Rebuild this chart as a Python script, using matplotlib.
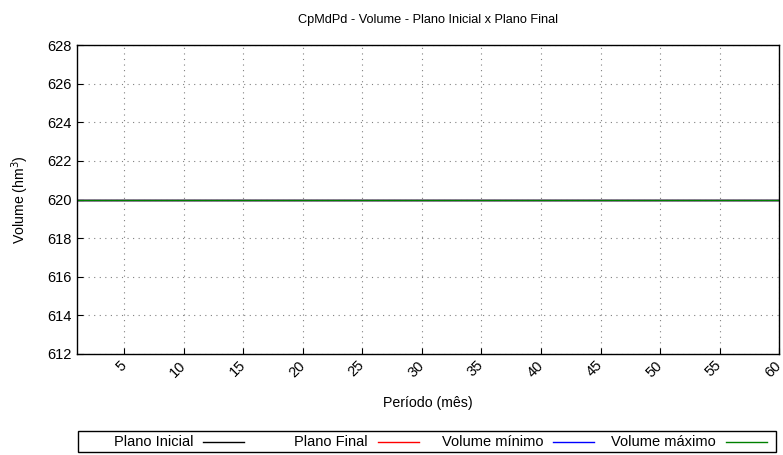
import matplotlib
matplotlib.use("Agg")
import matplotlib.pyplot as plt
import matplotlib.transforms as mtransforms
from matplotlib.lines import Line2D
from matplotlib.patches import Rectangle

plt.rcParams["font.family"] = ["Liberation Sans", "DejaVu Sans"]

# Dados
periodos = list(range(1, 61))
plano_inicial = [620.0] * 60
plano_final = [620.0] * 60
volume_minimo = [620.0] * 60
volume_maximo = [620.0] * 60

series = [
    ("Plano Inicial", plano_inicial, "black"),
    ("Plano Final", plano_final, "red"),
    ("Volume mínimo", volume_minimo, "blue"),
    ("Volume máximo", volume_maximo, "green"),
]

W, H = 783, 455
fig = plt.figure(figsize=(W / 100, H / 100), dpi=100)
ax = fig.add_axes([0.098, 0.222, 0.897, 0.679])

for nome, valores, cor in series:
    ax.plot(periodos, valores, color=cor, lw=1, label=nome)

ax.set_xlim(1, 60)
ax.set_ylim(612, 628)
ax.set_xticks(range(5, 61, 5))
ax.set_yticks(range(612, 629, 2))
ax.tick_params(direction="in", labelsize=10.5, length=4)
ax.tick_params(axis="x", pad=3)
desloc = mtransforms.ScaledTranslation(-5 / 100, 0, fig.dpi_scale_trans)
for lbl in ax.get_xticklabels():
    lbl.set_rotation(45)
    lbl.set_ha("right")
    lbl.set_va("top")
    lbl.set_rotation_mode("anchor")
    lbl.set_transform(lbl.get_transform() + desloc)
ax.grid(True, linestyle=(0, (1, 4)), color="gray", lw=0.8)
for s in ax.spines.values():
    s.set_linewidth(1)

ax.set_title("CpMdPd - Volume - Plano Inicial x Plano Final", fontsize=9.2, pad=16)
ax.set_xlabel("Período (mês)", fontsize=10.2, labelpad=12)
ax.set_ylabel("Volume (hm$^3$)", fontsize=10.2, labelpad=12)

# Legenda no estilo gnuplot: texto alinhado à direita, linha depois
caixa = Rectangle((78 / W, 1 - 452 / H), (776 - 78) / W, 21 / H,
                  transform=fig.transFigure, fill=False, edgecolor="black", lw=1)
fig.patches.append(caixa)
fim_texto = [193, 368, 543, 716]
y_leg = 1 - 442 / H
for (nome, _, cor), xt in zip(series, fim_texto):
    fig.text(xt / W, y_leg, nome, ha="right", va="center", fontsize=10.5)
    fig.add_artist(Line2D([(xt + 10) / W, (xt + 51) / W], [y_leg, y_leg],
                          transform=fig.transFigure, color=cor, lw=1))

fig.savefig("out.png", dpi=100)
